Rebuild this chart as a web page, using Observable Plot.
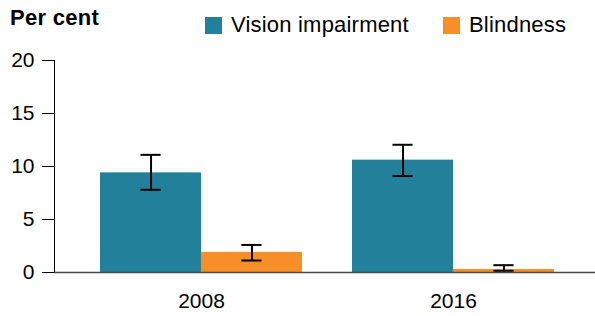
<!DOCTYPE html>
<html>
<head>
<meta charset="utf-8">
<script src="https://cdn.jsdelivr.net/npm/d3@7"></script>
<script src="https://cdn.jsdelivr.net/npm/@observablehq/plot@0.6"></script>
<style>
  html, body { margin: 0; padding: 0; background: #fff; }
  #wrap { position: relative; width: 595px; height: 316px; font-family: "Liberation Sans", Arial, sans-serif; color: #000; }
  #title { position: absolute; left: 10px; top: 7px; font-size: 22px; line-height: 22px; font-weight: bold; letter-spacing: 0.3px; }
  .leg { position: absolute; top: 14px; font-size: 22px; line-height: 22px; display: flex; align-items: center; letter-spacing: 0.2px; }
  .sw { width: 17px; height: 17px; display: inline-block; margin-right: 9px; }
  #chart { position: absolute; left: 0; top: 0; }
</style>
</head>
<body>
<div id="wrap">
  <div id="chart"></div>
  <div id="title">Per cent</div>
  <div id="legend"></div>
</div>
<script>
const years = ["2008", "2016"];
const series = ["Vision impairment", "Blindness"];
const colors = ["#22809A", "#F68F28"];
const visionValues = [9.4, 10.6];
const visionLow = [7.8, 9.1];
const visionHigh = [11.1, 12.05];
const blindValues = [1.9, 0.28];
const blindLow = [1.13, 0.16];
const blindHigh = [2.6, 0.69];
const yTicks = [0, 5, 10, 15, 20];

const data = years.flatMap((yr, i) => [
  {year: yr, series: series[0], value: visionValues[i], lo: visionLow[i], hi: visionHigh[i]},
  {year: yr, series: series[1], value: blindValues[i], lo: blindLow[i], hi: blindHigh[i]}
]);

const W = 595, H = 316, mL = 54, mR = -4, mT = 60, mB = 44;
const xOpts = {domain: years, paddingInner: 0.2, paddingOuter: 0.18};
// Band width from Plot's own band scale over the same range
const bw = Plot.scale({x: {type: "band", ...xOpts, range: [mL, W - mR]}}).bandwidth;
const capHalf = 10;

const vi = data.filter(d => d.series === series[0]);
const bl = data.filter(d => d.series === series[1]);

const errMarks = (rows, left) => {
  const dx = left ? -bw / 4 : bw / 4;
  const inL = left ? bw / 4 - capHalf : 3 * bw / 4 - capHalf;
  const inR = left ? 3 * bw / 4 - capHalf : bw / 4 - capHalf;
  return [
    Plot.ruleX(rows, {x: "year", y1: "lo", y2: "hi", dx, stroke: "#000", strokeWidth: 2}),
    Plot.tickY(rows, {x: "year", y: "lo", insetLeft: inL, insetRight: inR, stroke: "#000", strokeWidth: 2}),
    Plot.tickY(rows, {x: "year", y: "hi", insetLeft: inL, insetRight: inR, stroke: "#000", strokeWidth: 2})
  ];
};

const chart = Plot.plot({
  width: W,
  height: H,
  marginTop: mT,
  marginBottom: mB,
  marginLeft: mL,
  marginRight: mR,
  style: {fontFamily: "'Liberation Sans', Arial, sans-serif", fontSize: "21px", color: "#000", background: "transparent", overflow: "visible"},
  x: {...xOpts, label: null, tickSize: 0, tickPadding: 21},
  y: {domain: [0, 20], ticks: yTicks, label: null, tickSize: 12, tickPadding: 8, line: true},
  color: {domain: series, range: colors},
  marks: [
    Plot.barY(vi, {x: "year", y: "value", fill: "series", insetRight: bw / 2}),
    Plot.barY(bl, {x: "year", y: "value", fill: "series", insetLeft: bw / 2}),
    ...errMarks(vi, true),
    ...errMarks(bl, false),
    Plot.ruleY([0], {stroke: "#4a4a4a", strokeWidth: 1.5})
  ]
});
document.getElementById("chart").appendChild(chart);

const legend = document.getElementById("legend");
const legX = [205, 443];
series.forEach((s, i) => {
  const d = document.createElement("div");
  d.className = "leg";
  d.style.left = legX[i] + "px";
  d.innerHTML = `<span class="sw" style="background:${colors[i]}"></span><span>${s}</span>`;
  legend.appendChild(d);
});
</script>
</body>
</html>
